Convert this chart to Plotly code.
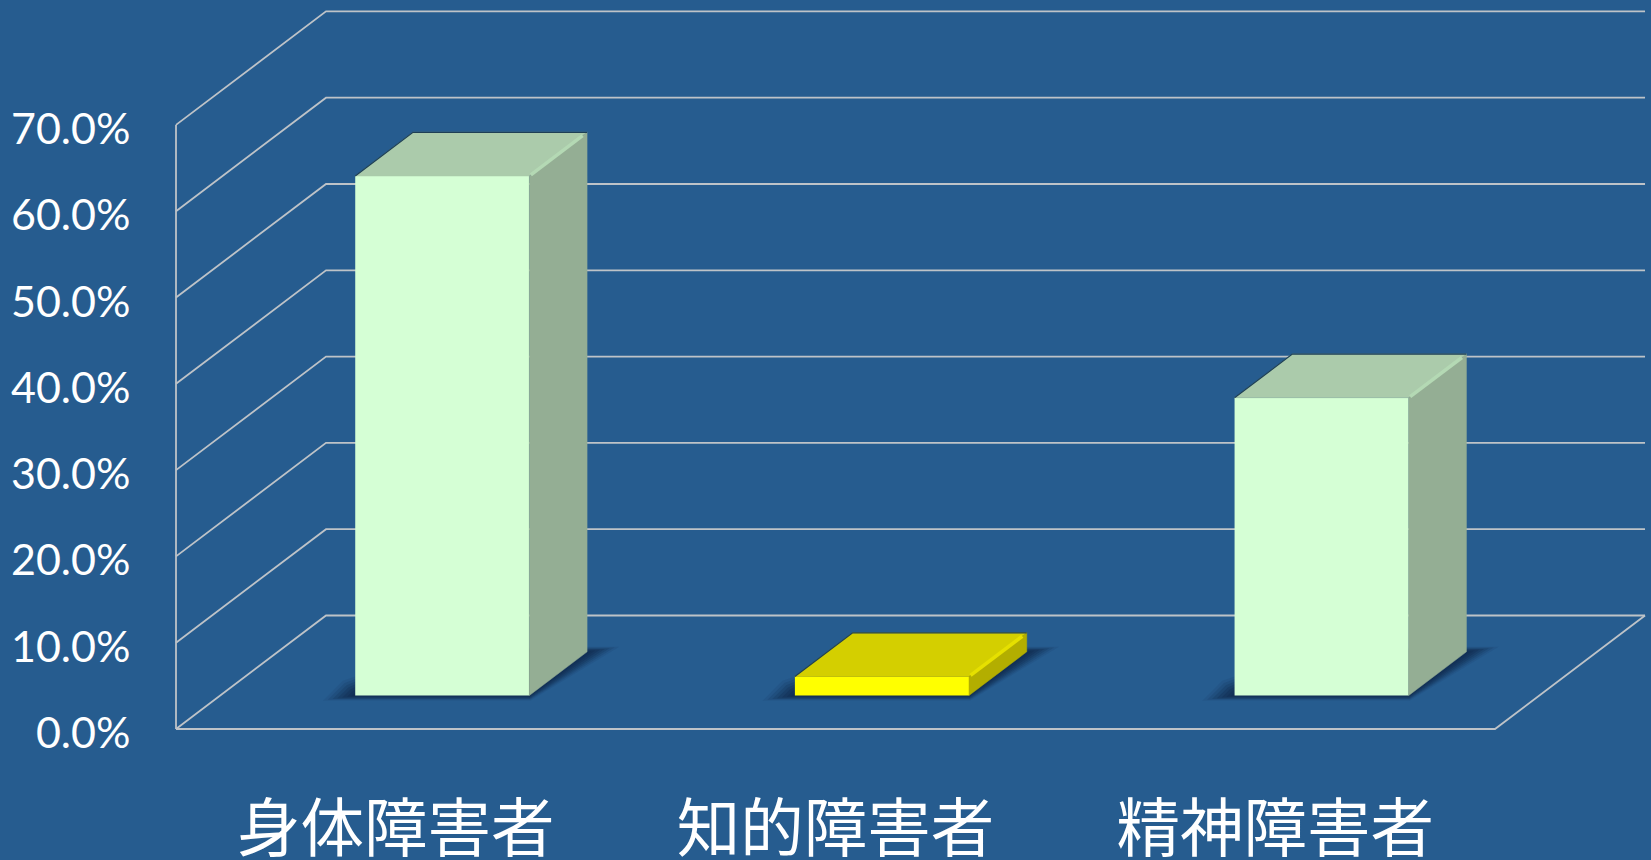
import plotly.graph_objects as go

# ---- data ----
categories = ["身体障害者", "知的障害者", "精神障害者"]
values = [60.2, 2.2, 34.5]
y_ticks = [0, 10, 20, 30, 40, 50, 60, 70]
y_tick_labels = ["0.0%", "10.0%", "20.0%", "30.0%", "40.0%", "50.0%", "60.0%", "70.0%"]
front_colors = ["#D5FFD5", "#FFFF00", "#D5FFD5"]
top_colors = ["#ABCBAB", "#D4CF00", "#ABCBAB"]
side_colors = ["#94AE94", "#B3AE00", "#94AE94"]
edge_colors = ["#B4D9B4", "#E6E000", "#B4D9B4"]

# ---- oblique projection of the 3D chart box (axis units) ----
W, H = 1651, 860
X_PX, Y_PX, X0_PX, Y0_PX = 439.67, 8.63, 176.0, 729.0
DEPTH_X, DEPTH_Y = 150 / X_PX, 113.5 / Y_PX
BAR_W, BAR_C, T0, T1 = 0.396, 0.505, 0.295, 0.68
BG, GRID = "#265C8F", "#BEC3C8"
n = len(categories)


def proj(x, t, v):
    return x + DEPTH_X * t, v + DEPTH_Y * t


def path(points, close=True):
    d = "M" + " L".join(f"{a:.4f},{b:.4f}" for a, b in points)
    return d + (" Z" if close else "")


shapes = []


def shape_path(points, close=False, **kw):
    shapes.append(dict(type="path", path=path(points, close), xref="x", yref="y", layer="below", **kw))


# walls and floor
for tick in y_ticks:
    shape_path([proj(0, 0, tick), proj(0, 1, tick), proj(n, 1, tick)], line=dict(color=GRID, width=1.8))
shape_path([proj(0, 0, 0), proj(0, 0, y_ticks[-1])], line=dict(color=GRID, width=1.8))
shape_path([proj(0, 0, 0), proj(n, 0, 0), proj(n, 1, 0)], line=dict(color=GRID, width=1.8))

# soft floor shadows
for i in range(n):
    xl, xr = i + BAR_C - BAR_W / 2, i + BAR_C + BAR_W / 2
    for s, op in [(1.0, 0.10), (0.85, 0.15), (0.7, 0.2), (0.55, 0.25), (0.4, 0.28), (0.25, 0.28), (0.12, 0.28)]:
        pad = 0.058 * s
        tp = 0.045 * s
        shape_path(
            [proj(xl - pad, T0 - tp, 0), proj(xr + pad * 0.3, T0 - tp, 0),
             proj(xr + pad, T1 + tp, 0), proj(xl + pad, T1 + tp, 0),
             proj(xl - pad * 1.25, T0 + 0.13 * s, 0)],
            close=True, fillcolor=f"rgba(15,40,75,{op})", line=dict(width=0),
        )

fig = go.Figure()

# front faces
bar_x = [proj(i + BAR_C, T0, 0)[0] for i in range(n)]
bar_base = [proj(0, T0, 0)[1]] * n
fig.add_trace(go.Bar(
    x=bar_x, y=values, base=bar_base, width=BAR_W,
    marker=dict(color=front_colors, line=dict(width=0)),
    hoverinfo="skip", showlegend=False,
))

# top and side faces
for i, v in enumerate(values):
    xl, xr = i + BAR_C - BAR_W / 2, i + BAR_C + BAR_W / 2
    top = [proj(xl, T0, v), proj(xr, T0, v), proj(xr, T1, v), proj(xl, T1, v)]
    side = [proj(xr, T0, 0), proj(xr, T1, 0), proj(xr, T1, v), proj(xr, T0, v)]
    for face, color in ((top, top_colors[i]), (side, side_colors[i])):
        xs, ys = zip(*(face + face[:1]))
        fig.add_trace(go.Scatter(
            x=xs, y=ys, mode="lines", fill="toself", fillcolor=color,
            line=dict(color=color, width=0.5), hoverinfo="skip", showlegend=False,
        ))
    # lit bevel between top and side, dark rim at the back-left of the top
    xs, ys = zip(proj(xr, T0 + 0.01, v), proj(xr, T1 - 0.03, v))
    fig.add_trace(go.Scatter(x=xs, y=ys, mode="lines", line=dict(color=edge_colors[i], width=3.5),
                             hoverinfo="skip", showlegend=False))
    xs, ys = zip(proj(xl, T0, v), proj(xl, T1, v), proj(xr, T1, v))
    fig.add_trace(go.Scatter(x=xs, y=ys, mode="lines", line=dict(color="#1E3F55", width=1.2),
                             hoverinfo="skip", showlegend=False))

fig.update_layout(
    width=W, height=H, autosize=False,
    margin=dict(l=0, r=0, t=0, b=0),
    paper_bgcolor=BG, plot_bgcolor=BG,
    shapes=shapes, showlegend=False, hovermode=False,
    font=dict(family="Lato, 'Noto Sans CJK JP'", color="white"),
    xaxis=dict(
        range=[-X0_PX / X_PX, (W - X0_PX) / X_PX],
        anchor="free", position=(H - Y0_PX) / H,
        tickmode="array", tickvals=[i + 0.5 for i in range(n)], ticktext=categories,
        tickfont=dict(family="'Noto Sans CJK JP'", size=63.5, color="white"),
        showgrid=False, zeroline=False, showline=False,
        ticks="outside", ticklen=45, tickcolor="rgba(0,0,0,0)",
        ticklabeloverflow="allow", automargin=False, fixedrange=True,
    ),
    yaxis=dict(
        range=[-(H - Y0_PX) / Y_PX, Y0_PX / Y_PX],
        anchor="free", position=X0_PX / W, side="left",
        tickmode="array", tickvals=y_ticks, ticktext=y_tick_labels,
        tickfont=dict(family="Lato", size=43, color="white"),
        showgrid=False, zeroline=False, showline=False,
        ticks="outside", ticklen=37, tickcolor="rgba(0,0,0,0)", ticklabelshift=4,
        ticklabeloverflow="allow", automargin=False, fixedrange=True,
    ),
)

fig.write_html(
    "out.html",
    config={"displayModeBar": False, "responsive": False},
    post_script="document.body.style.margin='0';document.documentElement.style.overflow='hidden';",
)
